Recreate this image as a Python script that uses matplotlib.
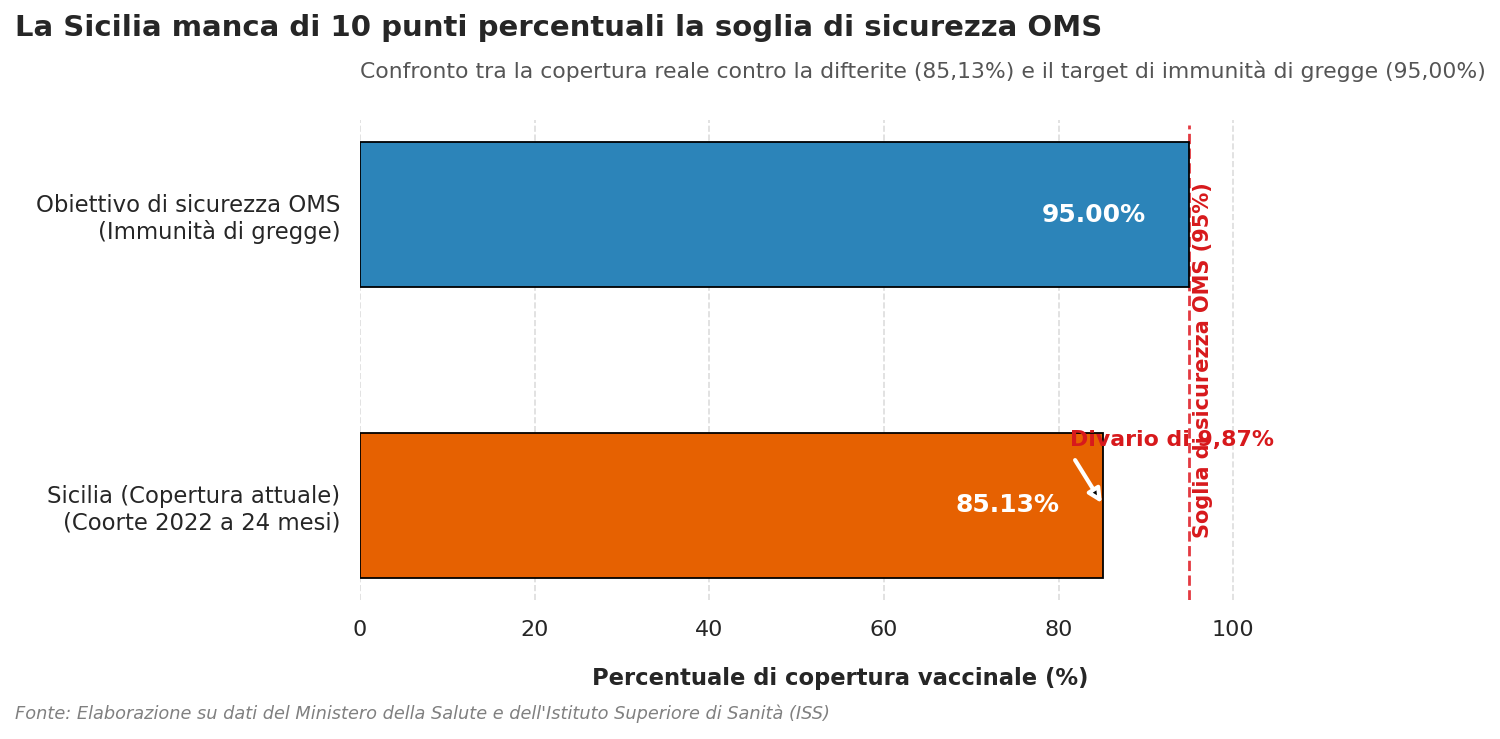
import numpy as np
import matplotlib
matplotlib.use('Agg')
import matplotlib.pyplot as plt

categories = ['Sicilia (Copertura attuale)\n(Coorte 2022 a 24 mesi)',
              'Obiettivo di sicurezza OMS\n(Immunità di gregge)']
values = [85.13, 95.00]
colors = ['#e66101', '#2c84b9']
threshold = 95.0
gap = threshold - values[0]

fig = plt.figure(figsize=(15, 7.39), dpi=100)
ax = fig.add_axes([0.24, 0.188, 0.6403, 0.6497])

ypos = np.arange(len(categories))
ax.barh(ypos, values, height=0.5, color=colors, edgecolor='black', linewidth=1.3, zorder=3)

# etichette dei valori dentro le barre
for y, v in zip(ypos, values):
    ax.text(v - 5, y, f'{v:.2f}%', ha='right', va='center', color='white',
            fontsize=18, fontweight='bold', zorder=4)

# soglia OMS
ax.axvline(threshold, color='#e0242c', linestyle='--', linewidth=2, alpha=0.9,
           ymax=0.99, zorder=2)
ax.text(threshold + 1.5, 0.5, 'Soglia di sicurezza OMS (95%)', rotation=90,
        ha='center', va='center', color='#d7191c', fontsize=15, fontweight='bold')

# divario
ax.annotate('', xy=(values[0], 0), xytext=(81.9, 0.156),
            arrowprops=dict(arrowstyle='-|>', edgecolor='white', facecolor='black',
                            lw=3, mutation_scale=20, shrinkA=0, shrinkB=2), zorder=5)
ax.text(81.3, 0.225, f'Divario di {gap:.2f}%'.replace('.', ','), ha='left', va='center',
        color='#d7191c', fontsize=15.8, fontweight='bold', zorder=5)

ax.set_xlim(0, 110)
ax.set_ylim(-0.325, 1.325)
ax.set_xticks(np.arange(0, 101, 20))
ax.set_yticks(ypos)
ax.set_yticklabels(categories, fontsize=16.4, color='#262626')
ax.tick_params(axis='x', labelsize=16, colors='#262626', length=0, pad=14)
ax.tick_params(axis='y', length=0, pad=14)
ax.grid(axis='x', linestyle='--', color='#dddddd', linewidth=1.2, zorder=0)
for s in ax.spines.values():
    s.set_visible(False)

ax.set_xlabel('Percentuale di copertura vaccinale (%)', fontsize=16.3, fontweight='bold',
              color='#262626', labelpad=20)

fig.text(0.01, 0.962, 'La Sicilia manca di 10 punti percentuali la soglia di sicurezza OMS',
         fontsize=21, fontweight='bold', color='#262626', ha='left', va='center')
fig.text(0.24, 0.904, 'Confronto tra la copertura reale contro la difterite (85,13%) e il target di immunità di gregge (95,00%)',
         fontsize=15.75, color='#555555', ha='left', va='center')
fig.text(0.01, 0.034, "Fonte: Elaborazione su dati del Ministero della Salute e dell'Istituto Superiore di Sanità (ISS)",
         fontsize=12.8, style='italic', color='#808080', ha='left', va='center')

fig.savefig('out.png', dpi=100)
